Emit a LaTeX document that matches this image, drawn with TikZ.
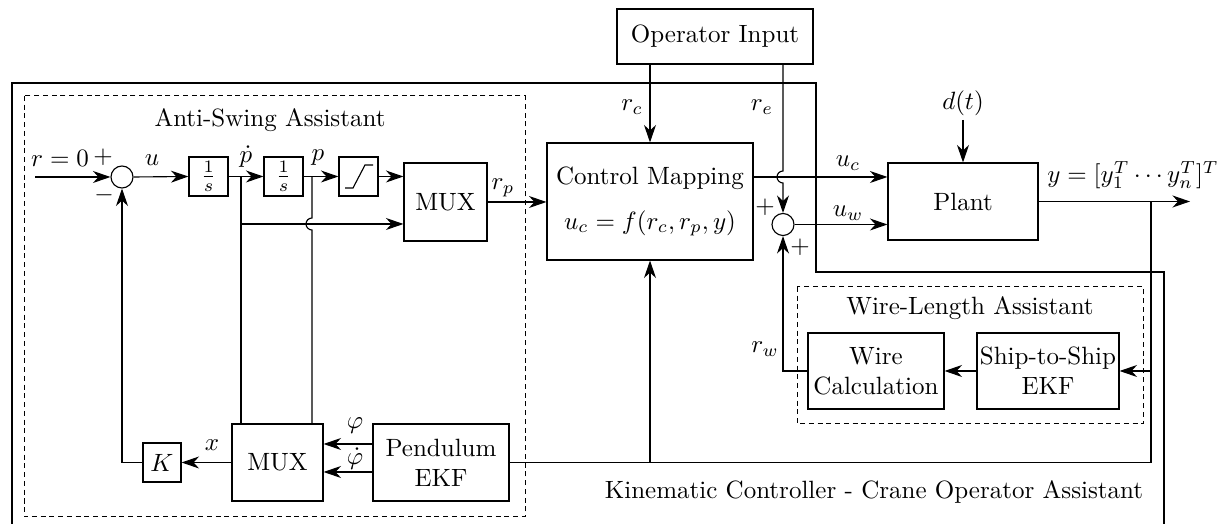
\documentclass[tikz,border=0pt]{standalone}
\usetikzlibrary{arrows.meta,calc}
\begin{document}
\begin{tikzpicture}[x=0.4pt,y=-0.4pt,
  line width=0.45pt,
  >={Stealth[length=7pt,width=4.8pt,inset=2.2pt]},
  blk/.style 2 args={draw, rectangle, inner sep=0pt, minimum width=#1*0.4pt, minimum height=#2*0.4pt, align=center},
  sumc/.style={draw, circle, inner sep=0pt, minimum size=8.8pt},
  lbl/.style={inner sep=0pt},
  thickbox/.style={line width=1pt},
  dbox/.style={line width=0.4pt, dash pattern=on 2pt off 1.5pt}]
\useasboundingbox (0,0) rectangle (1228,524);

% frames
\draw[dbox] (24,96) rectangle (525,517);
\draw[dbox] (797,287) rectangle (1143,424);
\draw[thickbox] (12,524) -- (12,83) -- (816,83) -- (816,272) -- (1164,272) -- (1164,524);
\node[lbl] (tas) at (270,120) {Anti-Swing Assistant};
\node[lbl] (twl) at (970,308) {Wire-Length Assistant};
\node[lbl] (tkc) at (874,492) {Kinematic Controller - Crane Operator Assistant};

% blocks
\node[blk={196}{55}] (opin) at (715,36.5) {Operator Input};
\node[blk={206}{117}] (cm) at (650,201.5) {Control Mapping\\[6pt] $u_c=f(r_c,r_p,y)$};
\node[blk={150}{77}] (plant) at (963,201.5) {Plant};
\node[blk={83}{78}] (mux1) at (445.5,202) {MUX};
\node[blk={39}{39}] (int1) at (208.5,176.5) {$\frac{1}{s}$};
\node[blk={39}{39}] (int2) at (283.5,176.5) {$\frac{1}{s}$};
\node[blk={39}{39}] (sat) at (358.5,176.5) {};
\draw ($(sat.center)+(-13.5,11.5)$) -- ++(8,0) -- ++(12,-23) -- ++(8,0);
\node[sumc] (s1) at (122,177) {};
\node[sumc] (s2) at (783,224.5) {};
\node[blk={38}{39}] (K) at (162,462.5) {$K$};
\node[blk={91}{77}] (mux2) at (277.5,462.5) {MUX};
\node[blk={136}{77}] (pend) at (441,462.5) {Pendulum\\EKF};
\node[blk={136}{76}] (wire) at (876,371) {Wire\\Calculation};
\node[blk={142}{76}] (s2s) at (1048,371) {Ship-to-Ship\\EKF};

% coordinates
\coordinate (in) at (35,177);
\coordinate (bp) at (241,177);
\coordinate (bq) at (312,177);
\coordinate (yl) at (0,224);
\coordinate (ucy) at (0,177);
\coordinate (dt) at (963,120);
\coordinate (yout) at (1190,202);
\coordinate (by) at (1151,202);
\coordinate (phy) at (0,444);
\coordinate (phdy) at (0,472);

% connectors
\draw[->] (in) -- (s1.west);
\draw[->] (s1.east) -- (int1.west);
\draw[->] (int1.east) -- (int2.west);
\draw[->] (int2.east) -- (sat.west);
\draw[->] (sat.east) -- (sat.east -| mux1.west);
\draw (bp) -- (bp |- mux2.north);
\draw[->] (bp |- yl) -- (mux1.west |- yl);
\draw (bq) -- (312,218) arc[start angle=90,end angle=270,radius=2.4pt] -- (bq |- mux2.north);
\draw[->] (mux1.east) -- (mux1.east -| cm.west);
\draw[->] (opin.south -| cm.north) -- (cm.north);
\draw[->] (opin.south -| s2.north) -- (783,171) arc[start angle=90,end angle=270,radius=2.4pt] -- (s2.north);
\draw[->] (cm.east |- ucy) -- (plant.west |- ucy);
\draw[->] (s2.east) -- (s2.east -| plant.west);
\draw[->] (dt) -- (plant.north);
\draw[->] (plant.east) -- (plant.east -| yout);
\draw (by) |- (pend.east);
\draw[->] (pend.east -| cm.south) -- (cm.south);
\draw[->] (by |- s2s.east) -- (s2s.east);
\draw[->] (s2s.west) -- (wire.east);
\draw[->] (wire.west) -| (s2.south);
\draw[->] (pend.west |- phy) -- (mux2.east |- phy);
\draw[->] (pend.west |- phdy) -- (mux2.east |- phdy);
\draw[->] (mux2.west) -- (K.east);
\draw[->] (K.west) -| (s1.south);

% labels
\node[lbl] (lr) at (60,158) {$r=0$};
\node[lbl] (lp1) at (103,157) {$+$};
\node[lbl] (lm1) at (104,195) {$-$};
\node[lbl] (lu) at (152,160) {$u$};
\node[lbl] (lpd) at (246,157) {$\dot p$};
\node[lbl] (lpp) at (318,158) {$p$};
\node[lbl] (lrp) at (503,188) {$r_p$};
\node[lbl] (lrc) at (632,107) {$r_c$};
\node[lbl] (lre) at (762,107) {$r_e$};
\node[lbl] (lp2) at (765,207) {$+$};
\node[lbl] (lp3) at (800,247) {$+$};
\node[lbl] (luc) at (848,163) {$u_c$};
\node[lbl] (luw) at (848,213) {$u_w$};
\node[lbl] (ldt) at (963,103) {$d(t)$};
\node[lbl] (ly) at (1133,175) {$y=[y_1^T\cdots y_n^T]^T$};
\node[lbl] (lrw) at (765,349) {$r_w$};
\node[lbl] (lx) at (212,445) {$x$};
\node[lbl] (lph) at (355,426) {$\varphi$};
\node[lbl] (lphd) at (355,459) {$\dot\varphi$};
\end{tikzpicture}
\end{document}
